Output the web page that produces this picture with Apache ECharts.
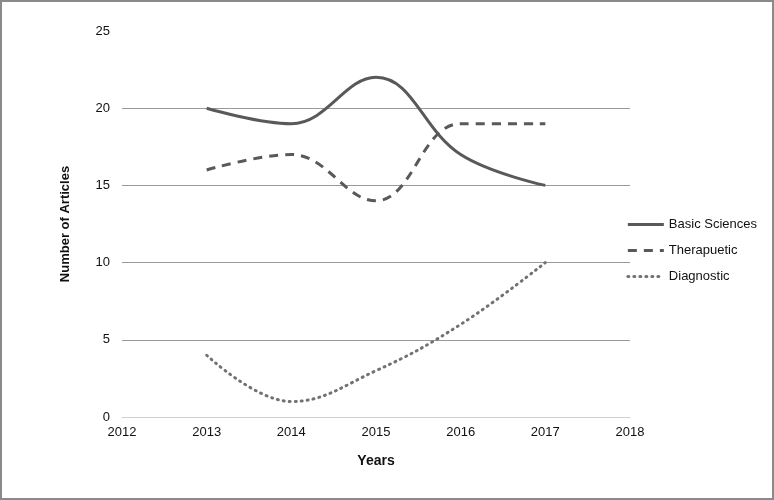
<!DOCTYPE html>
<html>
<head>
    <meta charset="utf-8">
    <title>Number of Articles</title>
    <script src="https://cdn.jsdelivr.net/npm/echarts@6/dist/echarts.min.js"></script>
    <style>
        html, body { margin: 0; padding: 0; background: #fff; }
        #chart {
            width: 774px;
            height: 500px;
            box-sizing: border-box;
            border: 2px solid #8a8a8a;
        }
    </style>
</head>
<body>
    <div id="chart"></div>
    <script type="text/javascript">
        // data
        const years = [2013, 2014, 2015, 2016, 2017];
        const basicSciences = [20, 19, 22, 17, 15];
        const therapeutic = [16, 17, 14, 19, 19];
        const diagnostic = [4, 1, 3, 6, 10];

        const pairs = function (vals) {
            return years.map(function (y, i) { return [y, vals[i]]; });
        };

        const lineColor = '#595959';
        const chart = echarts.init(document.getElementById('chart'));
        const option = {
            animation: false,
            textStyle: { fontFamily: 'Liberation Sans, Arial, sans-serif' },
            grid: { left: 120, right: 142, top: 29, bottom: 81, containLabel: false },
            legend: {
                orient: 'vertical',
                right: 10,
                top: 211,
                itemWidth: 36,
                itemHeight: 14,
                itemGap: 13,
                itemStyle: { opacity: 0 },
                lineStyle: { width: 3 },
                textStyle: { fontSize: 13, color: '#111' },
                data: ['Basic Sciences', 'Therapuetic', 'Diagnostic']
            },
            xAxis: {
                type: 'value',
                min: 2012,
                max: 2018,
                interval: 1,
                name: 'Years',
                nameLocation: 'middle',
                nameGap: 37,
                nameTextStyle: { fontWeight: 'bold', fontSize: 14, color: '#111' },
                axisLine: { lineStyle: { color: '#d0d0d0' } },
                axisTick: { show: false },
                splitLine: { show: false },
                axisLabel: {
                    fontSize: 13, color: '#111', margin: 9,
                    formatter: function (v) { return String(v); }
                }
            },
            yAxis: {
                type: 'value',
                min: 0,
                max: 25,
                interval: 5,
                name: 'Number of Articles',
                nameLocation: 'middle',
                nameGap: 50,
                nameTextStyle: { fontWeight: 'bold', fontSize: 13, color: '#111' },
                axisLine: { show: false },
                axisTick: { show: false },
                axisLabel: { fontSize: 13, color: '#111', margin: 12 },
                splitLine: { showMaxLine: false, lineStyle: { color: '#9a9a9a', width: 1 } }
            },
            series: [
                {
                    name: 'Basic Sciences',
                    type: 'line',
                    smooth: 0.4,
                    symbol: 'none',
                    data: pairs(basicSciences),
                    lineStyle: { color: lineColor, width: 3 },
                    itemStyle: { color: lineColor }
                },
                {
                    name: 'Therapuetic',
                    type: 'line',
                    smooth: 0.4,
                    symbol: 'none',
                    data: pairs(therapeutic),
                    lineStyle: { color: lineColor, width: 3, type: [9, 7] },
                    itemStyle: { color: lineColor }
                },
                {
                    name: 'Diagnostic',
                    type: 'line',
                    smooth: 0.4,
                    symbol: 'none',
                    data: pairs(diagnostic),
                    lineStyle: { color: '#727272', width: 3, type: [1, 5], cap: 'round' },
                    itemStyle: { color: '#727272' }
                }
            ]
        };
        chart.setOption(option);
    </script>
</body>
</html>
